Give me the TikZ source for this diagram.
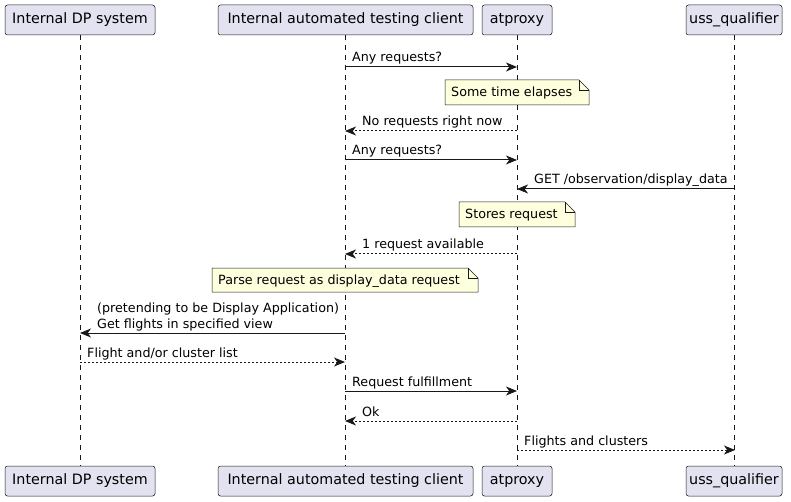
\documentclass[tikz,border=0pt]{standalone}
\usepackage{fontspec}
\setmainfont{DejaVu Sans}
\usetikzlibrary{arrows.meta}
\definecolor{partfill}{HTML}{E2E2F0}
\definecolor{partline}{HTML}{181818}
\definecolor{notefill}{HTML}{FEFFDD}
\tikzset{
 part/.style={draw=partline, fill=partfill, line width=0.5pt, rounded corners=2.5pt, minimum height=30pt, inner sep=0pt, font=\fontsize{14.3}{16}\selectfont},
 life/.style={draw=partline, line width=0.5pt, dash pattern=on 5pt off 5pt},
 msg/.style={line width=1pt, draw=partline, -{Stealth[length=11pt,width=9pt,inset=3.2pt]}},
 reply/.style={msg, dash pattern=on 2pt off 2pt},
 lbl/.style={anchor=base west, inner sep=0pt, font=\fontsize{12.7}{15}\selectfont},
 notebg/.style={draw=partline, fill=notefill, line width=0.5pt},
}
\newcommand\mynote[5]{%
  \draw[notebg] (#1,#2) -- (#3-10,#2) -- (#3,#2+10) -- (#3,#4) -- (#1,#4) -- cycle;
  \draw[notebg, fill=none] (#3-10,#2) -- (#3-10,#2+10) -- (#3,#2+10);
  \node[lbl] (#5) at (#1+6,#2/2+#4/2+4.5)}
\begin{document}
\begin{tikzpicture}[x=1pt,y=-1pt]
\useasboundingbox (0,0) rectangle (791,502);
% participants
\node[part, minimum width=150pt] (dpT) at (80,20) {Internal DP system};
\node[part, minimum width=255pt] (tcT) at (345.5,20) {Internal automated testing client};
\node[part, minimum width=70pt] (apT) at (517,20) {atproxy};
\node[part, minimum width=96pt] (uqT) at (734,20) {uss\_qualifier};
\node[part, minimum width=150pt] (dpB) at (80,481) {Internal DP system};
\node[part, minimum width=255pt] (tcB) at (345.5,481) {Internal automated testing client};
\node[part, minimum width=70pt] (apB) at (517,481) {atproxy};
\node[part, minimum width=96pt] (uqB) at (734,481) {uss\_qualifier};
% lifelines
\draw[life] (dpT.south) -- (dpB.north);
\draw[life] (tcT.south) -- (tcB.north);
\draw[life] (apT.south) -- (apB.north);
\draw[life] (uqT.south) -- (uqB.north);
% message anchor points
\coordinate (tc1) at (345,67);  \coordinate (ap1) at (517,67);
\coordinate (tc2) at (345,131); \coordinate (ap2) at (517,131);
\coordinate (tc3) at (345,160); \coordinate (ap3) at (517,160);
\coordinate (ap4) at (517,189); \coordinate (uq4) at (735,189);
\coordinate (tc5) at (345,254); \coordinate (ap5) at (517,254);
\coordinate (dp6) at (80,333);  \coordinate (tc6) at (345,333);
\coordinate (dp7) at (80,362);  \coordinate (tc7) at (345,362);
\coordinate (tc8) at (345,391); \coordinate (ap8) at (517,391);
\coordinate (tc9) at (345,421); \coordinate (ap9) at (517,421);
\coordinate (ap10) at (517,450); \coordinate (uq10) at (735,450);
% messages
\draw[msg] (tc1) -- (ap1);
\node[lbl] (l1) at (352,62) {Any requests?};
\mynote{445}{80}{589}{105}{n1}{Some time elapses};
\draw[reply] (ap2) -- (tc2);
\node[lbl] (l2) at (362,126) {No requests right now};
\draw[msg] (tc3) -- (ap3);
\node[lbl] (l3) at (352,155) {Any requests?};
\draw[msg] (uq4) -- (ap4);
\node[lbl] (l4) at (534,184) {GET /observation/display\_data};
\mynote{459}{202}{575}{227}{n2}{Stores request};
\draw[reply] (ap5) -- (tc5);
\node[lbl] (l5) at (362,249) {1 request available};
\mynote{212}{268}{478}{292}{n3}{Parse request as display\_data request};
\draw[msg] (tc6) -- (dp6);
\node[lbl] (l6a) at (97,312) {(pretending to be Display Application)};
\node[lbl] (l6b) at (97,328) {Get flights in specified view};
\draw[reply] (dp7) -- (tc7);
\node[lbl] (l7) at (87,357) {Flight and/or cluster list};
\draw[msg] (tc8) -- (ap8);
\node[lbl] (l8) at (352,386) {Request fulfillment};
\draw[reply] (ap9) -- (tc9);
\node[lbl] (l9) at (362,416) {Ok};
\draw[reply] (ap10) -- (uq10);
\node[lbl] (l10) at (524,445) {Flights and clusters};
\end{tikzpicture}
\end{document}
